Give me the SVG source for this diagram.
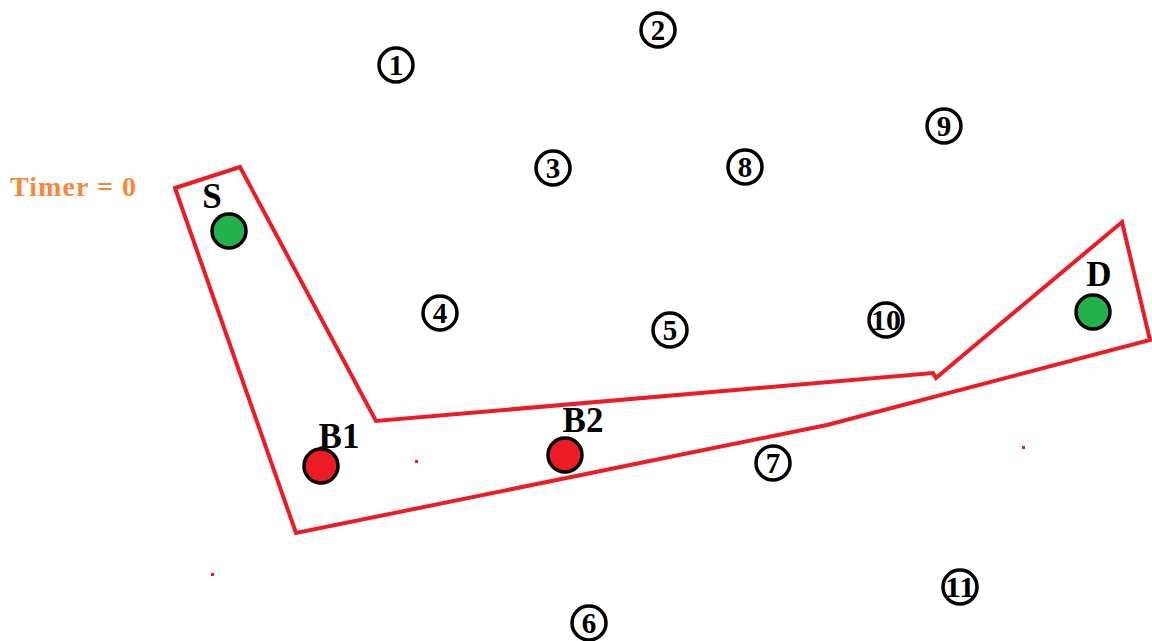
<svg xmlns="http://www.w3.org/2000/svg" width="1152" height="641" viewBox="0 0 1152 641">
<defs>
<style type="text/css">
.n { fill: #fff; stroke: #000; stroke-width: 3.5; }
.g { fill: #22b14c; stroke: #000; stroke-width: 3.5; }
.r { fill: #ed1c24; stroke: #000; stroke-width: 3.5; }
</style>
</defs>
<rect width="1152" height="641" fill="#fff"/>
<g id="region">
<polygon points="175,188 240,167 376,421 933,373 936,378 1122,222 1150,340 827,425 296,533" fill="none" stroke="#ed1c24" stroke-width="4" stroke-linejoin="miter"/>
</g>
<g id="connectors"></g>
<text x="10" y="196" font-family="Liberation Serif, serif" font-weight="bold" font-size="28" fill="#f7883a" textLength="126">Timer = 0</text>
<g font-family="Liberation Serif, serif" font-weight="bold" font-size="29" text-anchor="middle" fill="#000">
<g id="n1"><circle class="n" cx="396" cy="65" r="17"/><text x="396" y="75">1</text></g>
<g id="n2"><circle class="n" cx="658" cy="30" r="17"/><text x="658" y="40">2</text></g>
<g id="n3"><circle class="n" cx="553" cy="168" r="17"/><text x="553" y="178">3</text></g>
<g id="n4"><circle class="n" cx="440" cy="313" r="17"/><text x="440" y="323">4</text></g>
<g id="n5"><circle class="n" cx="670" cy="330" r="17"/><text x="670" y="340">5</text></g>
<g id="n6"><circle class="n" cx="589" cy="623" r="17"/><text x="589" y="633">6</text></g>
<g id="n7"><circle class="n" cx="773" cy="463" r="17"/><text x="773" y="473">7</text></g>
<g id="n8"><circle class="n" cx="745" cy="167" r="17"/><text x="745" y="177">8</text></g>
<g id="n9"><circle class="n" cx="944" cy="126" r="17"/><text x="944" y="136">9</text></g>
<g id="n10"><circle class="n" cx="886" cy="320" r="17"/><text x="886" y="330" textLength="30" lengthAdjust="spacingAndGlyphs">10</text></g>
<g id="n11"><circle class="n" cx="960" cy="587" r="17"/><text x="960" y="597" textLength="30" lengthAdjust="spacingAndGlyphs">11</text></g>
</g>
<g font-family="Liberation Serif, serif" font-weight="bold" font-size="35" text-anchor="middle" fill="#000">
<g id="S"><circle class="g" cx="229" cy="231" r="17"/><text x="212" y="208">S</text></g>
<g id="D"><circle class="g" cx="1093" cy="312" r="17"/><text x="1099" y="286">D</text></g>
<g id="B1"><circle class="r" cx="321" cy="466" r="17"/><text x="339" y="448">B1</text></g>
<g id="B2"><circle class="r" cx="565" cy="455" r="17"/><text x="583" y="432">B2</text></g>
</g>
<g fill="#ed1c24"><rect x="415" y="460" width="3" height="3"/><rect x="1022" y="446" width="3" height="3"/><rect x="211" y="573" width="3" height="3"/></g>
</svg>
